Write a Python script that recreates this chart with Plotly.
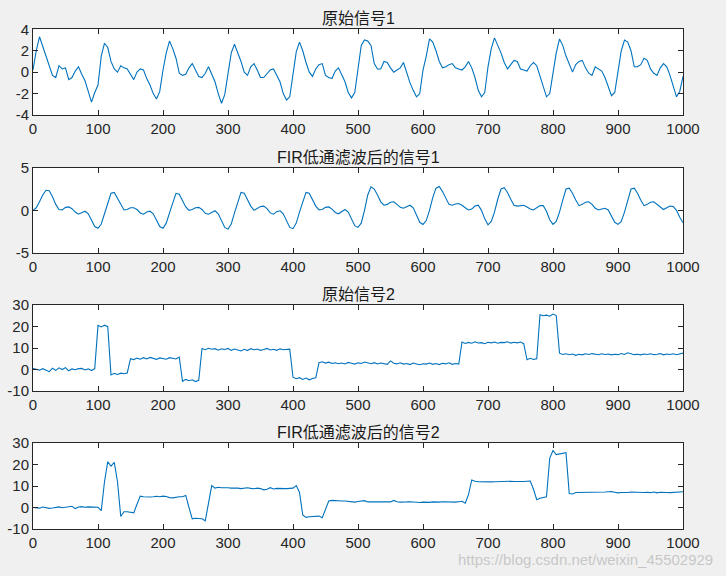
import numpy as np
import plotly.graph_objects as go

# sample spacing of the stored points (signals have 1000 samples)
step = 5

# original signal 1, one line per 100 samples
sig1 = [
    0.2, 2.0, 3.3, 2.4, 1.6, 0.5, -0.3, -0.5, 0.6, 0.3, 0.4, -0.7, -0.5, 0.1, 0.5, -0.2, -0.8, -1.8, -2.8, -1.9,
    -1.2, 1.5, 2.7, 2.3, 1.0, 0.3, 0.0, 0.6, 0.4, 0.3, -0.2, -0.7, 0.0, 0.3, 0.2, -0.6, -1.2, -2.0, -2.5, -1.8,
    0.2, 1.8, 2.9, 2.2, 1.3, -0.1, -0.3, -0.2, 0.4, 0.8, 0.2, -0.4, -0.5, -0.1, 0.5, -0.2, -0.9, -2.0, -2.9, -2.1,
    0.0, 1.8, 2.6, 1.8, 1.0, 0.0, -0.3, 0.5, 0.8, 0.2, -0.5, -0.5, -0.1, 0.2, 0.3, -0.3, -0.9, -2.0, -2.6, -2.3,
    -0.2, 1.9, 2.8, 2.0, 0.9, 0.0, -0.4, 0.3, 0.7, 0.8, -0.3, -0.5, -0.6, 0.1, 0.4, -0.3, -0.9, -1.9, -2.4, -1.9,
    0.5, 2.5, 3.0, 2.9, 2.5, 0.8, 0.3, 0.3, 1.0, 0.9, 0.4, 0.0, 0.2, 0.4, 0.9, -0.1, -1.0, -1.7, -2.3, -2.0,
    0.2, 1.5, 3.1, 2.8, 2.0, 1.0, 0.4, 0.5, 0.7, 0.8, 0.4, 0.3, 0.2, 0.5, 1.0, 0.4, -0.5, -1.7, -2.3, -1.9,
    0.5, 2.2, 3.2, 2.5, 1.8, 0.9, 0.3, 0.7, 1.1, 1.0, 0.3, 0.2, 0.1, 0.6, 0.9, 0.6, -0.4, -1.3, -2.3, -2.0,
    -0.3, 1.8, 3.1, 2.5, 1.5, 0.8, 0.0, 0.7, 1.0, 1.1, 0.4, -0.1, -0.3, 0.5, 0.3, 0.1, -0.5, -1.3, -2.2, -1.9,
    0.0, 2.0, 3.0, 2.8, 2.0, 0.5, 0.5, 0.7, 1.3, 1.1, 0.3, -0.1, -0.3, 0.4, 0.8, 0.5, -0.3, -1.4, -2.3, -1.8, -0.4,
]

# FIR filtered signal 1
filt1 = [
    0.0, 0.3, 1.0, 1.8, 2.35, 2.3, 1.6, 0.7, 0.1, 0.05, 0.35, 0.4, 0.2, -0.2, -0.45, -0.25, -0.1, -0.4, -1.2, -1.9,
    -2.1, -1.6, -0.4, 0.9, 2.0, 2.1, 1.4, 0.6, 0.05, 0.1, 0.3, 0.3, 0.1, -0.3, -0.45, -0.2, -0.1, -0.4, -1.2, -1.9,
    -2.1, -1.5, -0.3, 1.0, 2.0, 1.9, 1.2, 0.4, 0.0, 0.1, 0.3, 0.35, 0.1, -0.35, -0.45, -0.2, -0.05, -0.4, -1.3, -2.0,
    -2.2, -1.6, -0.3, 1.0, 2.1, 2.0, 1.3, 0.5, 0.0, 0.2, 0.45, 0.5, 0.2, -0.3, -0.45, -0.15, -0.05, -0.4, -1.3, -2.0,
    -2.15, -1.5, -0.2, 1.1, 2.1, 2.0, 1.3, 0.5, 0.05, 0.1, 0.35, 0.4, 0.15, -0.25, -0.4, -0.1, 0.1, -0.2, -1.0, -1.8,
    -2.0, -1.5, 0.0, 1.8, 2.75, 2.5, 1.8, 1.0, 0.6, 0.7, 0.95, 1.0, 0.7, 0.35, 0.25, 0.45, 0.6, 0.3, -0.6, -1.4,
    -1.65, -1.2, 0.0, 1.5, 2.6, 2.8, 2.2, 1.4, 0.7, 0.6, 0.75, 0.8, 0.6, 0.3, 0.05, 0.15, 0.5, 0.6, 0.0, -1.0,
    -1.7, -1.3, -0.2, 1.3, 2.5, 2.65, 2.1, 1.3, 0.6, 0.5, 0.55, 0.6, 0.4, 0.15, 0.05, 0.3, 0.55, 0.55, -0.1, -1.1,
    -1.65, -1.3, -0.2, 1.2, 2.5, 2.6, 2.0, 1.2, 0.55, 0.7, 0.95, 1.0, 0.7, 0.25, 0.05, 0.15, 0.25, 0.05, -0.6, -1.4,
    -1.65, -1.3, -0.2, 1.2, 2.5, 2.6, 2.0, 1.2, 0.55, 0.7, 0.95, 1.0, 0.7, 0.3, 0.1, 0.3, 0.5, 0.45, 0.0, -0.8, -1.45,
]

# original signal 2 (step levels with noise)
sig2 = [
    0.5, 0.2, -0.3, 0.4, -0.2, -1.0, 0.6, -0.4, 0.8, 0.0, 0.9, -0.6, 0.3, -0.1, 0.4, 0.5, -0.2, 0.3, -0.5, 0.4,
    20.5, 19.8, 20.6, 19.9,
    -2.5, -1.8, -2.3, -1.7, -2.0, -1.6,
    5.0, 4.6, 5.3, 4.8, 5.5, 4.9, 5.6, 5.1, 4.7, 5.4, 5.0, 4.8, 5.5, 5.2, 4.9, 5.8,
    -5.5, -4.6, -5.2, -4.8, -5.6, -5.0,
    9.8, 9.2, 9.9, 9.4, 9.7, 9.0, 9.6, 9.3, 9.8, 8.9, 9.5, 9.1, 8.6, 9.4, 8.8, 9.7, 9.2, 9.5, 8.9, 9.3,
    9.8, 9.1, 9.4, 8.9, 9.6, 9.2, 9.3, 9.5,
    -3.6, -4.3, -3.8, -4.6, -4.0, -4.8, -4.2, -3.9,
    3.2, 3.6, 3.0, 3.4, 2.8, 3.1, 2.7, 3.0, 2.6, 3.3, 2.9, 2.5, 3.1, 2.8, 3.5, 3.0, 2.7, 3.2, 2.6, 3.0,
    2.8, 2.4, 4.0, 2.9, 2.6, 3.1, 2.5, 2.8, 2.3, 3.0, 2.6, 2.2, 2.7, 2.5, 3.0, 2.4, 2.8, 2.3, 2.9, 2.6,
    3.1, 2.4, 2.8, 2.5,
    12.8, 12.1, 12.6, 12.2, 12.9, 12.3, 12.5, 12.0, 12.7, 12.4, 12.8, 12.2, 12.6, 12.5, 12.9, 12.3, 12.7, 12.4, 12.8, 12.0,
    4.5, 5.2, 4.7, 5.0,
    25.5, 25.0, 25.3, 24.8, 25.8, 25.1,
    7.6, 7.0, 7.3, 6.9, 7.2, 6.6, 7.1, 6.8, 7.3, 7.0, 7.4, 7.1, 6.9, 7.3, 7.0, 7.2, 6.8, 7.1, 6.9, 7.4,
    7.0, 7.8, 7.2, 6.9, 7.1, 6.8, 7.2, 7.0, 7.3, 6.9, 7.1, 7.4, 6.8, 7.2, 7.0, 7.3, 6.9, 7.4, 7.6,
]

# FIR filtered signal 2
filt2 = [
    0.0, -0.2, -0.3, 0.2, -0.1, -0.4, -0.2, 0.1, 0.3, -0.1, 0.1, 0.3, 0.6, -0.5, 0.2, 0.4, 0.1, 0.3, 0.2, 0.3,
    0.1, -1.5, 12.0, 21.3, 19.2, 21.0, 12.0, -4.2, -2.0, -2.0, -2.2, -2.5, 1.5, 5.3, 5.0, 4.8, 4.9, 5.0, 5.2, 5.0,
    5.3, 5.1, 4.6, 4.5, 4.8, 5.0, 5.0, 5.6, 0.0, -5.3, -5.0, -5.0, -5.2, -6.2, 2.0, 10.2, 9.0, 9.4, 9.2, 9.3,
    9.2, 9.0, 9.1, 9.0, 8.8, 9.1, 9.2, 8.9, 8.7, 9.0, 8.8, 8.2, 8.5, 9.2, 8.6, 8.9, 8.8, 8.9, 8.8, 8.9,
    9.0, 10.2, 7.0, -3.5, -4.6, -4.3, -4.3, -4.2, -4.0, -4.8, -1.0, 3.0, 3.3, 3.1, 3.0, 3.0, 3.0, 2.9, 2.7, 2.5,
    2.8, 3.0, 3.2, 2.6, 2.5, 2.7, 2.6, 2.7, 2.6, 2.8, 2.6, 3.3, 2.7, 2.5, 2.4, 2.6, 2.7, 2.5, 2.6, 2.3,
    2.5, 2.4, 2.4, 2.6, 2.5, 2.5, 2.7, 2.6, 2.5, 2.6, 2.5, 2.7, 2.9, 2.0, 6.0, 12.8, 12.2, 12.0, 11.9, 11.8,
    12.0, 11.9, 12.0, 12.1, 12.2, 12.0, 12.1, 12.2, 12.1, 12.0, 12.1, 12.1, 12.2, 12.3, 8.5, 3.6, 4.3, 4.8, 5.0, 23.0,
    26.5, 24.6, 24.8, 25.0, 25.5, 6.5, 6.3, 7.0, 7.0, 6.9, 7.1, 6.9, 7.0, 6.9, 7.1, 7.0, 7.2, 7.3, 7.4, 7.1,
    6.8, 7.0, 6.9, 7.0, 7.2, 7.1, 6.9, 7.1, 7.0, 7.1, 6.9, 7.2, 6.8, 7.1, 7.2, 7.0, 6.9, 7.0, 7.3, 7.2, 7.3,
]

titles = ['原始信号1', 'FIR低通滤波后的信号1', '原始信号2', 'FIR低通滤波后的信号2']
x_ticks = list(range(0, 1001, 100))
y_ticks = [[-4, -2, 0, 2, 4], [-5, 0, 5], [-10, 0, 10, 20, 30], [-10, 0, 10, 20, 30]]
y_ticktext = [['-4', '-2', '0', '2', '4'], ['-5', '0', '5'],
              ['-10', '0', '10', '20', '30'], ['-10', '0', '10', '20', '30']]
y_ranges = [[-4, 4], [-5, 5], [-10, 30], [-10, 30]]

W, H = 726, 576
x_dom = [33 / W, 683 / W]
# top / bottom pixel rows of each axes box
boxes = [(29.3, 115), (167.7, 253), (305, 391), (443, 529)]

axis_color = '#262626'
tick_font = dict(family='Liberation Sans, Arial, sans-serif', size=15, color=axis_color)

fig = go.Figure()
layout = dict(
    width=W, height=H,
    margin=dict(l=0, r=0, t=0, b=0),
    paper_bgcolor='#f0f0f0',
    plot_bgcolor='white',
    showlegend=False,
    annotations=[],
)

for i, series in enumerate([sig1, filt1, sig2, filt2]):
    n = np.arange(len(series)) * step
    k = '' if i == 0 else str(i + 1)
    fig.add_trace(go.Scatter(x=n, y=series, mode='lines',
                             line=dict(color='#0072BD', width=1.1),
                             xaxis='x' + k, yaxis='y' + k))
    top, bot = boxes[i]
    common = dict(ticks='inside', ticklen=5, tickwidth=1, tickcolor=axis_color,
                  showline=True, linecolor=axis_color, linewidth=1, mirror='ticks',
                  showgrid=False, zeroline=False, tickfont=tick_font, automargin=False)
    layout['xaxis' + k] = dict(domain=x_dom, range=[0, 1000], tickvals=x_ticks,
                               anchor='y' + k, **common)
    layout['yaxis' + k] = dict(domain=[1 - bot / H, 1 - top / H], range=y_ranges[i],
                               tickvals=y_ticks[i], ticktext=y_ticktext[i],
                               anchor='x' + k, **common)
    layout['annotations'].append(dict(
        text=titles[i], x=358 / W, y=1 - top / H, xref='paper', yref='paper',
        xanchor='center', yanchor='bottom', yshift=0, showarrow=False,
        font=dict(family='Liberation Sans, Noto Sans CJK SC', size=16, color='#1a1a1a')))

layout['annotations'].append(dict(
    text='https://blog.csdn.net/weixin_45502929', x=715 / W, y=1 - 559 / H,
    xref='paper', yref='paper', xanchor='right', yanchor='middle', showarrow=False,
    font=dict(family='Liberation Sans, Arial', size=15, color='rgba(185,185,185,0.75)')))

fig.update_layout(**layout)

# drop the browser's default page margin so the figure sits at the window corner
fig.write_html("out.html", config={'displayModeBar': False},
               post_script="document.body.style.margin='0';")
